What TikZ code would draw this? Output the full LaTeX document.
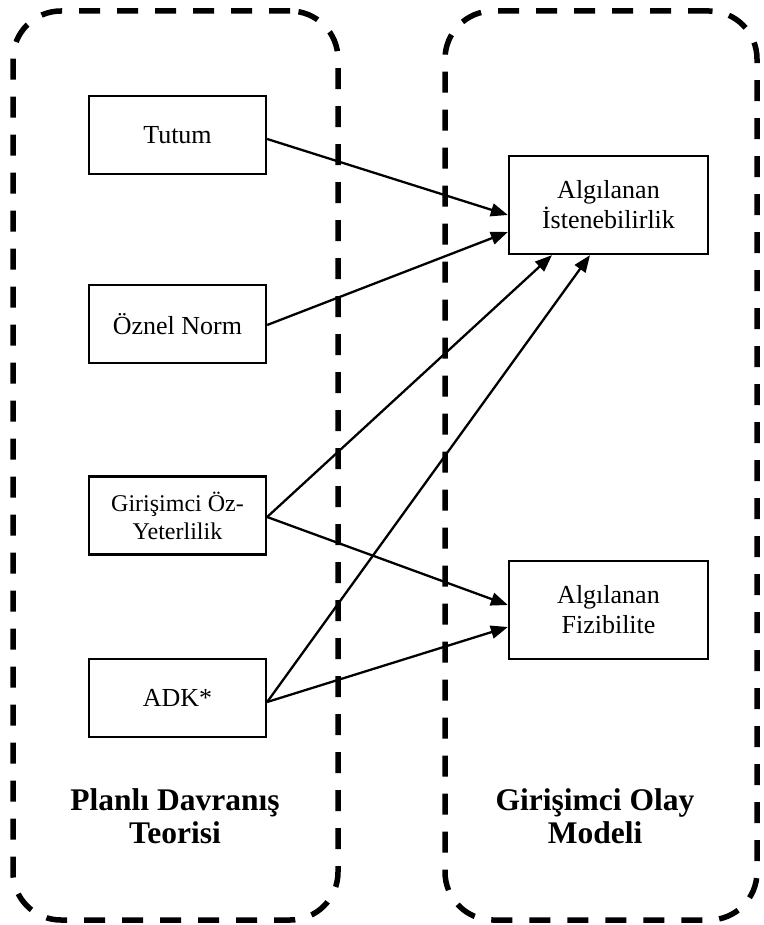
\documentclass[tikz,border=0pt]{standalone}
\usepackage{fontspec}
\setmainfont{Liberation Serif}
\usetikzlibrary{arrows.meta}
\begin{document}
\begin{tikzpicture}[x=1pt,y=-1pt,
  box/.style={draw, line width=2.3pt, minimum width=177pt, minimum height=78pt,
    align=center, inner sep=0pt, font=\fontsize{26}{30}\selectfont},
  tbox/.style={box, minimum width=199pt, minimum height=98pt},
  cont/.style={draw, line width=5.5pt, dash pattern=on 21pt off 17pt,
    rounded corners=48pt, inner sep=0pt},
  arr/.style={-{Triangle[length=17pt,width=13pt]}, line width=2.3pt},
  lab/.style={align=center, inner sep=0pt,
    font=\bfseries\fontsize{31.5}{33}\selectfont}]
\useasboundingbox (0,0) rectangle (763,925);
% containers
\node[cont, minimum width=325pt, minimum height=909pt] (tpb) at (175.5,465.5) {};
\node[cont, minimum width=312pt, minimum height=909pt] (gom) at (601,465.5) {};
% left boxes
\node[box] (tutum) at (177.5,135) {Tutum};
\node[box] (oznel) at (177.5,324) {Öznel Norm};
\node[box, font=\fontsize{24}{28}\selectfont] (goy) at (177.5,515.5) {Girişimci Öz-\\Yeterlilik};
\node[box] (adk) at (177.5,698) {ADK*};
% right boxes
\node[tbox] (ist) at (608.5,205) {Algılanan\\İstenebilirlik};
\node[tbox] (fiz) at (608.5,610) {Algılanan\\Fizibilite};
% labels
\node[lab] (tpblab) at (175,816) {Planlı Davranış\\Teorisi};
\node[lab] (gomlab) at (595,816) {Girişimci Olay\\Modeli};
% arrows
\draw[arr] ([yshift=-4pt]tutum.east) -- ([yshift=-10pt]ist.west);
\draw[arr] ([yshift=-1pt]oznel.east) -- ([yshift=-27pt]ist.west);
\draw[arr] ([yshift=-1.5pt]goy.east) -- ([xshift=-56.5pt]ist.south);
\draw[arr] ([yshift=-1.5pt]goy.east) -- ([yshift=5pt]fiz.west);
\draw[arr] ([yshift=-4pt]adk.east) -- ([xshift=-18.5pt]ist.south);
\draw[arr] ([yshift=-4pt]adk.east) -- ([yshift=-17pt]fiz.west);
\end{tikzpicture}
\end{document}
